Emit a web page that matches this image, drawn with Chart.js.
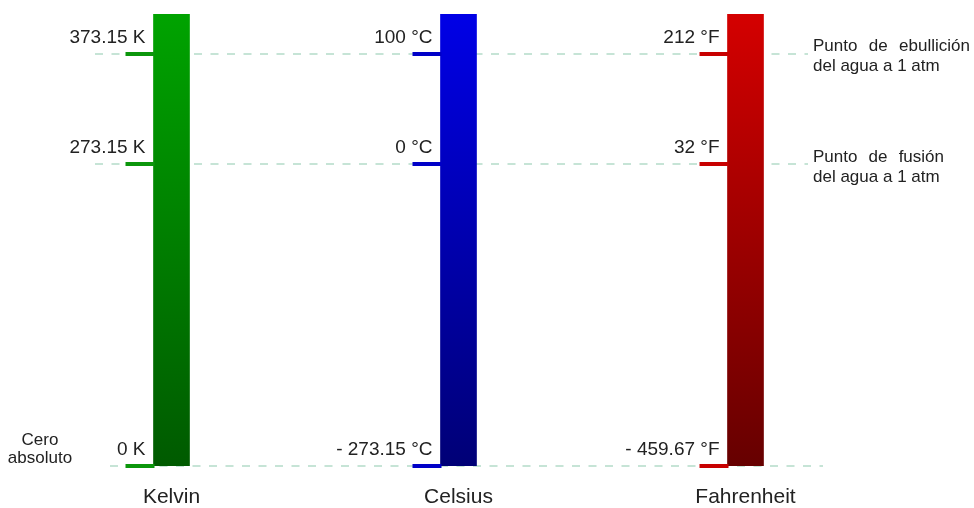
<!DOCTYPE html>
<html><head><meta charset="utf-8">
<script src="https://cdn.jsdelivr.net/npm/chart.js@4"></script>
<style>html,body{margin:0;padding:0;background:#fff;overflow:hidden}</style>
</head><body>
<canvas id="c" width="974" height="508"></canvas>
<script>
// ---- data ----
const scales = ['Kelvin', 'Celsius', 'Fahrenheit'];
const absoluteZero = [0, -273.15, -459.67];
const freezingPoint = [273.15, 0, 32];
const boilingPoint = [373.15, 100, 212];
const barTop = [409, 136, 277];
const zeroLabels = ['0 K', '- 273.15 °C', '- 459.67 °F'];
const freezingLabels = ['273.15 K', '0 °C', '32 °F'];
const boilingLabels = ['373.15 K', '100 °C', '212 °F'];
const boilingNote = ['Punto de ebullición', 'del agua a 1 atm'];
const freezingNote = ['Punto de fusión', 'del agua a 1 atm'];
const zeroNote = ['Cero', 'absoluto'];

// ---- styles ----
const FONT = "'Liberation Sans', Arial, sans-serif";
const axisIds = ['yK', 'yC', 'yF'];
const gradStops = [['#00a300', '#005a00'], ['#0000e6', '#000076'], ['#d40000', '#660000']];
const tickColors = ['#0c960c', '#0000c8', '#c80000'];
const dashColor = '#c6e4d6';

const datasets = scales.map((s, i) => ({
  label: s,
  data: scales.map((_, j) => j === i ? [absoluteZero[i], barTop[i]] : null),
  yAxisID: axisIds[i],
  grouped: false,
  barThickness: 36,
  borderWidth: 0,
  borderSkipped: false,
  backgroundColor: (ctx) => {
    const chart = ctx.chart, ca = chart.chartArea;
    if (!ca) return gradStops[i][0];
    const g = chart.ctx.createLinearGradient(0, ca.top, 0, ca.bottom);
    g.addColorStop(0, gradStops[i][0]);
    g.addColorStop(1, gradStops[i][1]);
    return g;
  }
}));

const yScales = {};
axisIds.forEach((id, i) => {
  yScales[id] = { type: 'linear', display: false, min: absoluteZero[i], max: barTop[i] };
});

function justifiedText(ctx, text, x, y, width) {
  const words = text.split(' ');
  const wordsW = words.reduce((a, w) => a + ctx.measureText(w).width, 0);
  const gap = (width - wordsW) / (words.length - 1);
  let cx = x;
  words.forEach(w => { ctx.fillText(w, cx, y); cx += ctx.measureText(w).width + gap; });
}

const thermoPlugin = {
  id: 'thermo',
  beforeDatasetsDraw(chart) {
    const ctx = chart.ctx, yK = chart.scales.yK;
    ctx.save();
    ctx.strokeStyle = dashColor;
    ctx.lineWidth = 2;
    ctx.setLineDash([8, 8.5]);
    const lines = [[boilingPoint[0], 95, 808], [freezingPoint[0], 95, 808], [absoluteZero[0], 110, 823]];
    lines.forEach(([v, x0, x1]) => {
      const y = Math.round(yK.getPixelForValue(v));
      ctx.beginPath(); ctx.moveTo(x0, y); ctx.lineTo(x1, y); ctx.stroke();
    });
    ctx.restore();
  },
  afterDatasetsDraw(chart) {
    const ctx = chart.ctx;
    ctx.save();
    scales.forEach((s, i) => {
      const bar = chart.getDatasetMeta(i).data[i];
      const left = bar.x - bar.width / 2;
      const sc = chart.scales[axisIds[i]];
      const marks = [[boilingPoint[i], boilingLabels[i]], [freezingPoint[i], freezingLabels[i]], [absoluteZero[i], zeroLabels[i]]];
      marks.forEach(([v, lab]) => {
        const y = Math.round(sc.getPixelForValue(v));
        ctx.strokeStyle = tickColors[i];
        ctx.lineWidth = 4;
        ctx.setLineDash([]);
        ctx.beginPath(); ctx.moveTo(left - 28, y); ctx.lineTo(left + 1, y); ctx.stroke();
        ctx.fillStyle = '#222';
        ctx.font = '19px ' + FONT;
        ctx.textAlign = 'right';
        ctx.textBaseline = 'alphabetic';
        ctx.fillText(lab, left - 8, y - 11);
      });
    });
    // notes
    const yK = chart.scales.yK;
    ctx.fillStyle = '#222';
    ctx.font = '17px ' + FONT;
    ctx.textAlign = 'left';
    ctx.textBaseline = 'alphabetic';
    const yb = yK.getPixelForValue(boilingPoint[0]);
    justifiedText(ctx, boilingNote[0], 813, yb - 3, 157);
    ctx.fillText(boilingNote[1], 813, yb + 17);
    const yf = yK.getPixelForValue(freezingPoint[0]);
    justifiedText(ctx, freezingNote[0], 813, yf - 2, 131);
    ctx.fillText(freezingNote[1], 813, yf + 18);
    const yz = yK.getPixelForValue(absoluteZero[0]);
    ctx.textAlign = 'center';
    ctx.fillText(zeroNote[0], 40, yz - 21);
    ctx.fillText(zeroNote[1], 40, yz - 3);
    ctx.restore();
  }
};

new Chart(document.getElementById('c'), {
  type: 'bar',
  data: { labels: scales, datasets },
  options: {
    responsive: false,
    animation: false,
    devicePixelRatio: 1,
    layout: { padding: { top: 14, left: 28, right: 85, bottom: 0 } },
    plugins: { legend: { display: false }, tooltip: { enabled: false } },
    scales: Object.assign({
      x: {
        type: 'category',
        grid: { display: false },
        border: { display: false },
        ticks: { color: '#222', font: { size: 21, family: FONT }, padding: 11, maxRotation: 0 },
        afterFit(scale) { scale.height = 42; }
      }
    }, yScales)
  },
  plugins: [thermoPlugin]
});
</script>
</body></html>
